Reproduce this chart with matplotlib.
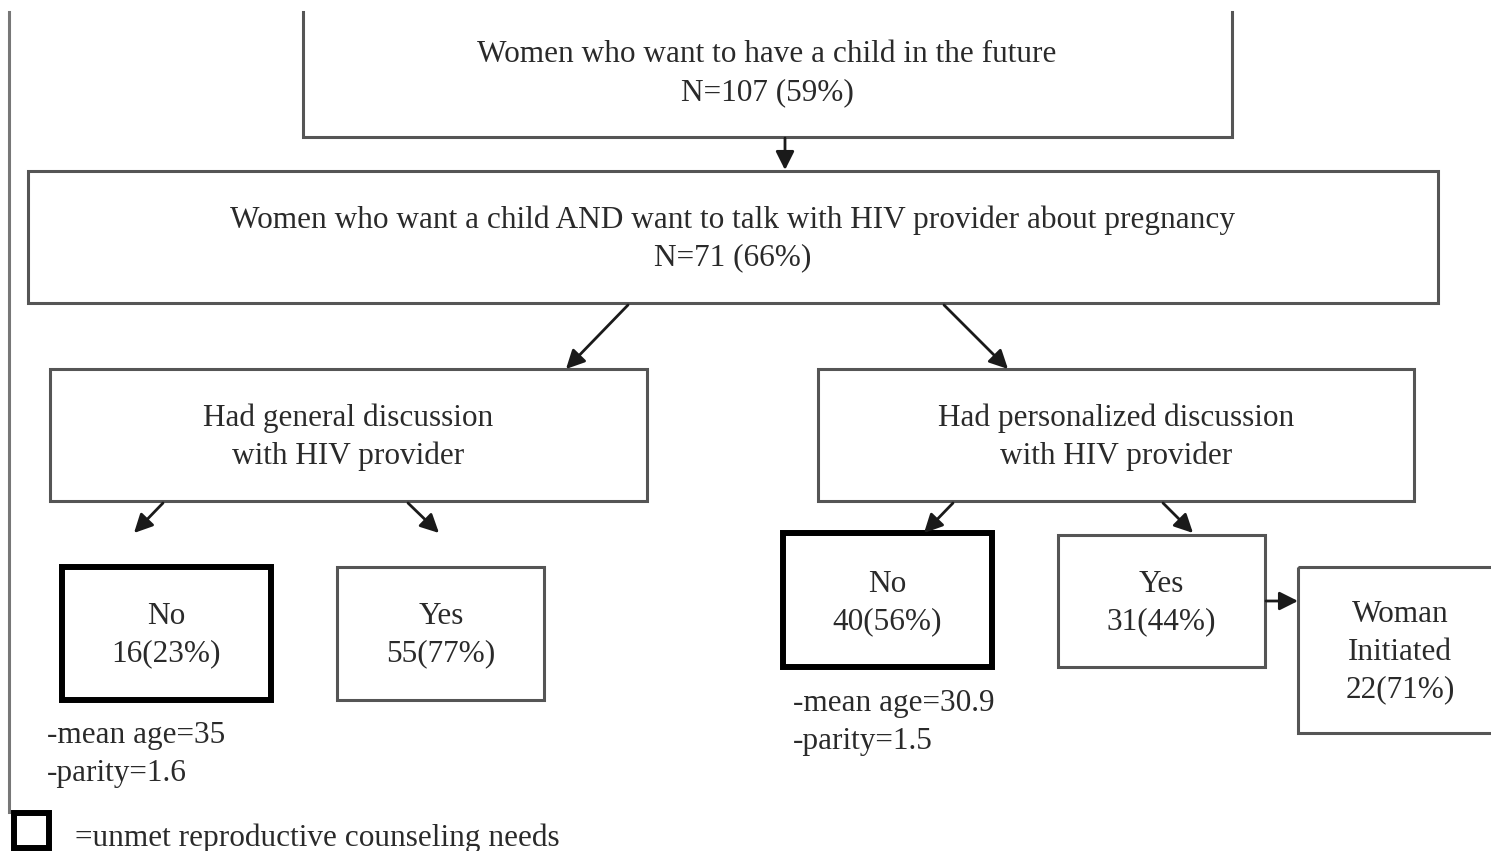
import matplotlib.pyplot as plt
from matplotlib.patches import Rectangle

plt.rcParams['font.family'] = ['Liberation Serif', 'DejaVu Serif']

# box texts
top_text = ['Women who want to have a child in the future', 'N=107 (59%)']
talk_text = ['Women who want a child AND want to talk with HIV provider about pregnancy', 'N=71 (66%)']
general_text = ['Had general discussion', 'with HIV provider']
personal_text = ['Had personalized discussion', 'with HIV provider']
gen_no = ['No', '16(23%)']
gen_yes = ['Yes', '55(77%)']
per_no = ['No', '40(56%)']
per_yes = ['Yes', '31(44%)']
woman_init = ['Woman', 'Initiated', '22(71%)']
gen_no_notes = ['-mean age=35', '-parity=1.6']
per_no_notes = ['-mean age=30.9', '-parity=1.5']
legend_text = '=unmet reproductive counseling needs'

# layout in pixels: (x0, y0, x1, y1), thick
boxes = [
    (talk_text, (28, 171, 1438, 303), False),
    (general_text, (50, 369, 647, 501), False),
    (personal_text, (818, 369, 1414, 501), False),
    (gen_no, (62, 567, 271, 700), True),
    (gen_yes, (337, 567, 544, 700), False),
    (per_no, (783, 533, 992, 667), True),
    (per_yes, (1058, 535, 1265, 667), False),
    (woman_init, (1298, 567, 1520, 733), False),
]
text_x = [733, 348, 1116, 166, 441, 887, 1161, 1400]
text_y = [218, 416, 416, 614, 614, 582, 582, 612]
arrows = [((785, 138), (785, 170)),
          ((628, 305), (566, 369)),
          ((944, 305), (1008, 369)),
          ((163, 503), (134, 533)),
          ((408, 503), (439, 533)),
          ((953, 503), (924, 533)),
          ((1163, 503), (1193, 533)),
          ((1266, 601), (1298, 601))]

W, H = 1491, 851
fig = plt.figure(figsize=(W / 100, H / 100), dpi=100)
ax = fig.add_axes([0, 0, 1, 1])
ax.set_xlim(0, W)
ax.set_ylim(H, 0)
ax.axis('off')

fs = 22.5
tcol = '#2a2a2a'
ecol = '#555555'
lh = 38
dy = 2


def put_lines(x, y, lines, ha='center'):
    for k, s in enumerate(lines):
        ax.text(x, y + k * lh + dy, s, ha=ha, va='center', fontsize=fs, color=tcol)


# top box, cut off at the top of the picture
ax.plot([303, 303, 1232, 1232], [12, 137, 137, 12], color=ecol, lw=2.2,
        solid_joinstyle='miter')
put_lines(767, 53, top_text)

for (lines, (x0, y0, x1, y1), thick), x, y in zip(boxes, text_x, text_y):
    if thick:
        ax.add_patch(Rectangle((x0, y0), x1 - x0, y1 - y0, fill=False,
                               ec='black', lw=4.3, joinstyle='miter'))
    else:
        ax.add_patch(Rectangle((x0, y0), x1 - x0, y1 - y0, fill=False,
                               ec=ecol, lw=2.2, joinstyle='miter'))
    put_lines(x, y, lines)

for (x0, y0), (x1, y1) in arrows:
    ax.annotate('', xy=(x1, y1), xytext=(x0, y0),
                arrowprops=dict(arrowstyle='-|>', color='#1a1a1a', lw=2.0,
                                mutation_scale=28, shrinkA=0, shrinkB=0))

put_lines(47, 734, gen_no_notes, ha='left')
put_lines(793, 701, per_no_notes, ha='left')

# left margin line
ax.plot([9, 9], [12, 812], color='#777777', lw=2.2)

# legend
ax.add_patch(Rectangle((14, 813), 35, 35, fill=False, ec='black', lw=4.3))
ax.text(75, 836 + dy, legend_text, ha='left', va='center', fontsize=fs, color=tcol)

fig.savefig('out.png', dpi=100)
